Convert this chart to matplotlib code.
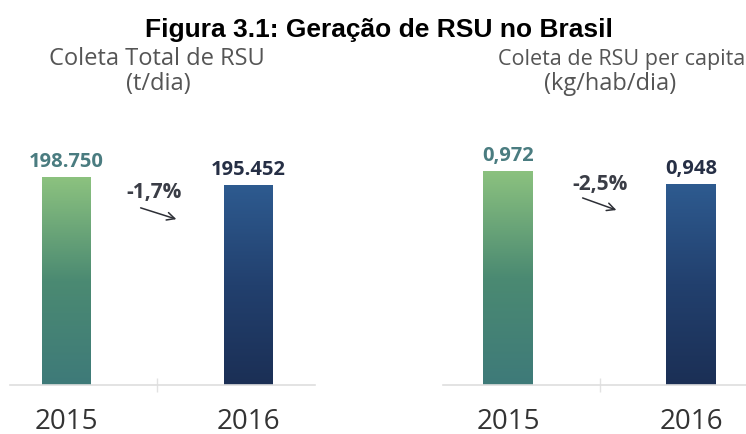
import matplotlib.pyplot as plt
import numpy as np
from matplotlib.colors import LinearSegmentedColormap

years = ["2015", "2016"]
total = [198750, 195452]
total_labels = ["198.750", "195.452"]
per_capita = [0.972, 0.948]
per_capita_labels = ["0,972", "0,948"]
total_change = "-1,7%"
per_capita_change = "-2,5%"

# bottom colour -> top colour of each bar
grad_2015 = LinearSegmentedColormap.from_list("g15", ["#3e7a79", "#4b8a72", "#8cc27f"])
grad_2016 = LinearSegmentedColormap.from_list("g16", ["#1b2f55", "#22406e", "#2e5b90"])
label_colors = ["#4a7c80", "#262f45"]

FONT = ["Open Sans", "DejaVu Sans"]
W, H = 746, 435

fig = plt.figure(figsize=(W / 100, H / 100), dpi=100)
fig.patch.set_facecolor("white")


def px(x, y):
    # pixel position (from top-left) -> figure fraction
    return x / W, 1 - y / H


def panel(rect, values, labels, xlim, ylim, width):
    ax = fig.add_axes(rect)
    x = np.arange(len(values))
    bars = ax.bar(x, np.array(values) - ylim[0], width=width, bottom=ylim[0],
                  color="none", edgecolor="none")
    for bar, cmap in zip(bars, [grad_2015, grad_2016]):
        x0, y0 = bar.get_x(), bar.get_y()
        x1, y1 = x0 + bar.get_width(), y0 + bar.get_height()
        grad = np.linspace(0, 1, 256).reshape(-1, 1)
        im = ax.imshow(grad, cmap=cmap, extent=[x0, x1, y0, y1], origin="lower",
                       aspect="auto", zorder=2)
        im.set_clip_path(bar)
    ax.set_xlim(*xlim)
    ax.set_ylim(*ylim)

    span = ylim[1] - ylim[0]
    for xi, v, lab, c in zip(x, values, labels, label_colors):
        ax.text(xi, v + span * 0.045, lab, ha="center", va="baseline",
                fontsize=14.5, fontweight="bold", color=c, family=FONT)

    for s in ["top", "left", "right"]:
        ax.spines[s].set_visible(False)
    ax.spines["bottom"].set_color("#dedede")
    ax.spines["bottom"].set_linewidth(1.2)
    ax.set_yticks([])
    ax.set_xticks(x)
    ax.set_xticklabels(years, fontsize=20, color="#333333", family=FONT)
    ax.tick_params(axis="x", length=0, pad=16)
    ax.set_xticks([0.5], minor=True)
    ax.tick_params(axis="x", which="minor", length=10, color="#e2e2e2",
                   direction="inout", width=1)
    ax.set_facecolor("none")
    return ax


def change_note(text, text_xy, arrow_from, arrow_to):
    fig.text(*px(*text_xy), text, ha="center", va="baseline", fontsize=15,
             fontweight="bold", color="#3a3d46", family=FONT)
    fig.add_artist(plt.Annotation(
        "", xy=px(*arrow_to), xytext=px(*arrow_from), xycoords="figure fraction",
        arrowprops=dict(arrowstyle="->", color="#2d2f36", lw=1.1,
                        mutation_scale=14)))


panel([10 / W, 49 / H, 305 / W, 246 / H], total, total_labels,
      (-0.308, 1.368), (112980, 214420), 0.264)
panel([443 / W, 49 / H, 303 / W, 246 / H], per_capita, per_capita_labels,
      (-0.355, 1.30), (0.577, 1.031), 0.27)

change_note(total_change, (154, 198), (138, 208), (179, 221))
change_note(per_capita_change, (600, 190), (580, 198), (619, 212))

fig.text(*px(379, 37), "Figura 3.1: Geração de RSU no Brasil", ha="center",
         va="baseline", fontsize=19, fontweight="bold",
         family=["Liberation Sans", "DejaVu Sans"], color="black")
sub = dict(ha="center", va="baseline", fontsize=17, color="#555555", family=FONT)
fig.text(*px(157, 65), "Coleta Total de RSU", **sub)
fig.text(*px(158, 90), "(t/dia)", **sub)
fig.text(*px(622, 65), "Coleta de RSU per capita", **{**sub, "fontsize": 15.5})
fig.text(*px(610, 90), "(kg/hab/dia)", **sub)

fig.savefig("out.png", dpi=100, facecolor="white")
